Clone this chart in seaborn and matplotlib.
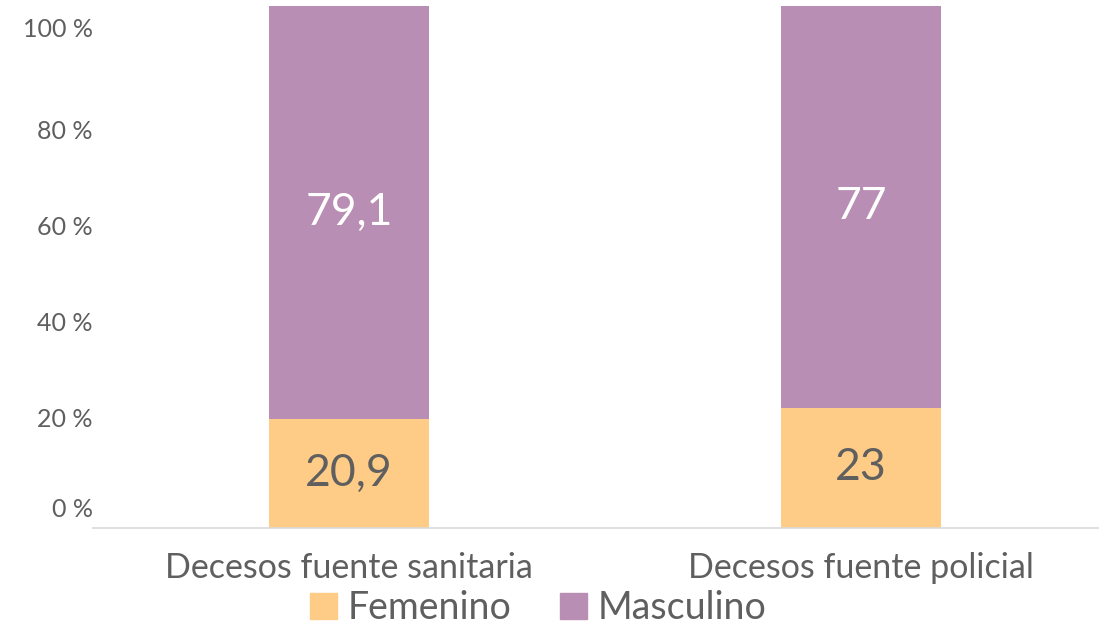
import matplotlib
matplotlib.use("Agg")
import matplotlib.pyplot as plt
import seaborn as sns
from matplotlib.patches import Patch

# Data
categories = ["Decesos fuente sanitaria", "Decesos fuente policial"]
femenino = [20.9, 23]
masculino = [79.1, 77]
series_names = ["Femenino", "Masculino"]
tick_labels = ["0 %", "20 %", "40 %", "60 %", "80 %", "100 %"]
# where the tick labels sit on the value axis in the original picture
tick_positions = [4.0, 21.1, 39.5, 58.0, 76.4, 95.8]

COL_FEM = "#FECC86"
COL_MASC = "#B98EB4"
TEXT = "#5F5F5F"

sns.set_theme(style="white")
plt.rcParams["font.family"] = ["Lato", "DejaVu Sans"]

fig = plt.figure(figsize=(10.99, 6.28), dpi=100)
ax = fig.add_axes([0.0846, 0.1592, 0.9154, 0.8312])

sns.barplot(x=categories, y=femenino, color=COL_FEM, width=0.3125,
            saturation=1, linewidth=0, ax=ax)
sns.barplot(x=categories, y=masculino, bottom=femenino, color=COL_MASC,
            width=0.3125, saturation=1, linewidth=0, ax=ax)

fmt = lambda v: f"{v:g}".replace(".", ",")
ax.bar_label(ax.containers[0], labels=[fmt(v) for v in femenino],
             label_type="center", color=TEXT, fontsize=32)
ax.bar_label(ax.containers[1], labels=[fmt(v) for v in masculino],
             label_type="center", color="white", fontsize=32)

ax.set_xlim(-0.5, 1.465)
ax.set_ylim(0, 100)
ax.set_yticks(tick_positions)
ax.set_yticklabels(tick_labels)
ax.tick_params(axis="y", length=0, pad=0, labelsize=18, labelcolor=TEXT)
ax.tick_params(axis="x", length=0, pad=17, labelsize=24.5, labelcolor=TEXT)

for side in ["top", "right", "left"]:
    ax.spines[side].set_visible(False)
ax.spines["bottom"].set_color("#D9D9D9")
ax.spines["bottom"].set_linewidth(1.2)

handles = [Patch(color=COL_FEM), Patch(color=COL_MASC)]
leg = fig.legend(handles, series_names, loc="center", bbox_to_anchor=(0.49, 0.032),
                 ncol=2, frameon=False, fontsize=27, handlelength=0.7,
                 handleheight=0.7, handletextpad=0.3, columnspacing=1.3,
                 borderpad=0, borderaxespad=0)
for t in leg.get_texts():
    t.set_color(TEXT)

fig.savefig("out.png", dpi=100)
